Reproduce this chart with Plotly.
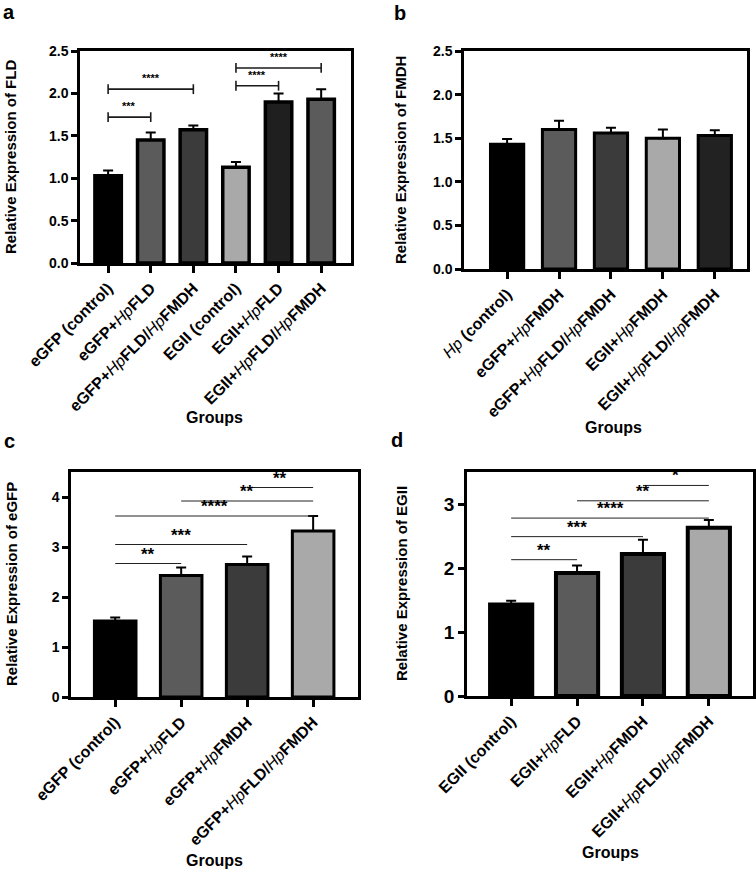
"""Four-panel relative expression bar charts (FLD, FMDH, eGFP, EGII)."""

import plotly.graph_objects as go
from plotly.subplots import make_subplots

W, H = 756, 870
FONT = "Liberation Sans, Arial, Helvetica, sans-serif"

# ---- data -----------------------------------------------------------------
a_groups = ["eGFP (control)", "eGFP+HpFLD", "eGFP+HpFLD/HpFMDH",
            "EGII (control)", "EGII+HpFLD", "EGII+HpFLD/HpFMDH"]
a_mean = [1.03, 1.45, 1.57, 1.13, 1.90, 1.93]
a_err = [0.06, 0.09, 0.05, 0.06, 0.10, 0.12]
a_colors = ["#000000", "#5b5b5b", "#3b3b3b", "#a9a9a9", "#1f1f1f", "#5b5b5b"]
a_sig = [(0, 1, 1.72, "***"), (0, 2, 2.05, "****"), (3, 4, 2.09, "****"), (3, 5, 2.30, "****")]

b_groups = ["Hp (control)", "eGFP+HpFMDH", "eGFP+HpFLD/HpFMDH", "EGII+HpFMDH", "EGII+HpFLD/HpFMDH"]
b_mean = [1.43, 1.60, 1.56, 1.50, 1.53]
b_err = [0.06, 0.10, 0.06, 0.10, 0.06]
b_colors = ["#000000", "#5b5b5b", "#3b3b3b", "#a9a9a9", "#222222"]

c_groups = ["eGFP (control)", "eGFP+HpFLD", "eGFP+HpFMDH", "eGFP+HpFLD/HpFMDH"]
c_mean = [1.52, 2.43, 2.65, 3.32]
c_err = [0.07, 0.16, 0.16, 0.30]
c_colors = ["#000000", "#5b5b5b", "#3b3b3b", "#a9a9a9"]
c_sig = [(0, 1, 2.67, "**"), (0, 2, 3.05, "***"), (0, 3, 3.62, "****"), (1, 3, 3.92, "**"), (2, 3, 4.19, "**")]

d_groups = ["EGII (control)", "EGII+HpFLD", "EGII+HpFMDH", "EGII+HpFLD/HpFMDH"]
d_mean = [1.43, 1.92, 2.22, 2.63]
d_err = [0.06, 0.12, 0.22, 0.12]
d_colors = ["#000000", "#5b5b5b", "#3b3b3b", "#a9a9a9"]
d_sig = [(0, 1, 2.13, "**"), (0, 2, 2.49, "***"), (0, 3, 2.78, "****"), (1, 3, 3.05, "**"), (2, 3, 3.29, "*")]


def fmt_label(name):
    # "Hp" is set in italic, everything else bold
    parts = name.split("Hp")
    out = "<b>" + parts[0] + "</b>"
    for p in parts[1:]:
        out += "<i>Hp</i><b>" + p + "</b>"
    return out.replace("<b></b>", "")


def px_x(p):
    return p / W


def px_y(p):
    return 1 - p / H


fig = make_subplots(rows=2, cols=2)

panels = [
    dict(g=a_groups, m=a_mean, e=a_err, c=a_colors, s=a_sig, row=1, col=1,
         xd=(80, 351), yd=(51, 263), xr=(-0.66, 5.70), yr=(0, 2.5), dt=0.5, tf=".1f",
         bw=0.62, ow=3.5, ts=14, sig_style="cap"),
    dict(g=b_groups, m=b_mean, e=b_err, c=b_colors, s=[], row=1, col=2,
         xd=(464, 747), yd=(51, 269), xr=(-0.83, 4.62), yr=(0, 2.5), dt=0.5, tf=".1f",
         bw=0.64, ow=3, ts=14, sig_style="cap"),
    dict(g=c_groups, m=c_mean, e=c_err, c=c_colors, s=c_sig, row=2, col=1,
         xd=(71, 358), yd=(472, 697), xr=(-0.67, 3.68), yr=(0, 4.5), dt=1, tf="d",
         bw=0.63, ow=3, ts=14, sig_style="plain"),
    dict(g=d_groups, m=d_mean, e=d_err, c=d_colors, s=d_sig, row=2, col=2,
         xd=(467, 753), yd=(472, 696), xr=(-0.67, 3.67), yr=(0, 3.5), dt=1, tf="d",
         bw=0.64, ow=4, ts=19, sig_style="plain"),
]

for p in panels:
    n = len(p["g"])
    xs = list(range(n))
    fig.add_trace(
        go.Bar(
            x=xs, y=p["m"], width=p["bw"],
            marker={"color": p["c"], "line": {"color": "#000000", "width": p["ow"]}},
            error_y={"type": "data", "array": p["e"], "arrayminus": [0] * n, "symmetric": False,
                     "color": "#000000", "thickness": 2, "width": 5},
            showlegend=False, hoverinfo="skip",
        ),
        row=p["row"], col=p["col"],
    )
    for i0, i1, level, stars in p["s"]:
        if p["sig_style"] == "cap":
            fig.add_trace(
                go.Scatter(
                    x=[i0, i1], y=[level, level], mode="lines+markers",
                    line={"color": "#1a1a1a", "width": 1.6},
                    marker={"symbol": "line-ns-open", "size": 7, "line": {"color": "#1a1a1a", "width": 1.6}},
                    showlegend=False, hoverinfo="skip",
                ),
                row=p["row"], col=p["col"],
            )
            star_size, yshift = 11, 3
        else:
            fig.add_trace(
                go.Scatter(
                    x=[i0, i1], y=[level, level], mode="lines",
                    line={"color": "#222222", "width": 1},
                    showlegend=False, hoverinfo="skip",
                ),
                row=p["row"], col=p["col"],
            )
            star_size, yshift = 17, -2
        fig.add_annotation(
            x=(i0 + i1) / 2, y=level, text="<b>" + stars + "</b>", showarrow=False,
            xanchor="center", yanchor="bottom", yshift=yshift,
            font={"size": star_size, "color": "#000000"},
            row=p["row"], col=p["col"],
        )

    fig.update_xaxes(
        domain=[px_x(p["xd"][0]), px_x(p["xd"][1])], range=list(p["xr"]),
        tickmode="array", tickvals=xs, ticktext=[fmt_label(g) for g in p["g"]],
        tickangle=-45, ticks="outside", ticklen=7, tickwidth=2.5, tickcolor="#000000",
        showline=True, linecolor="#000000", linewidth=2.5, mirror=True,
        showgrid=False, zeroline=False, tickfont={"size": 16, "color": "#000000"},
        row=p["row"], col=p["col"],
    )
    fig.update_yaxes(
        domain=[px_y(p["yd"][1]), px_y(p["yd"][0])], range=list(p["yr"]), dtick=p["dt"],
        tickformat=p["tf"], ticks="outside", ticklen=6, tickwidth=2.5, tickcolor="#000000",
        showline=True, linecolor="#000000", linewidth=2.5, mirror=True,
        showgrid=False, zeroline=False,
        tickfont={"size": p["ts"], "color": "#000000", "weight": "bold"},
        row=p["row"], col=p["col"],
    )

# axis titles and panel letters as paper annotations (pixel positions)
y_titles = [(10, 157, "Relative Expression of FLD"), (400, 160, "Relative Expression of FMDH"),
            (11, 584, "Relative Expression of eGFP"), (401, 584, "Relative Expression of EGII")]
for x, y, t in y_titles:
    fig.add_annotation(x=px_x(x), y=px_y(y), xref="paper", yref="paper", text="<b>" + t + "</b>",
                       textangle=-90, showarrow=False, xanchor="center", yanchor="middle",
                       font={"size": 15, "color": "#000000"})

for x, y in [(214, 418), (613, 427), (214, 860), (610, 852)]:
    fig.add_annotation(x=px_x(x), y=px_y(y), xref="paper", yref="paper", text="<b>Groups</b>",
                       showarrow=False, xanchor="center", yanchor="middle",
                       font={"size": 16, "color": "#000000"})

for x, y, letter in [(9, 12, "a"), (400, 13, "b"), (9, 441, "c"), (397, 440, "d")]:
    fig.add_annotation(x=px_x(x), y=px_y(y), xref="paper", yref="paper", text="<b>" + letter + "</b>",
                       showarrow=False, xanchor="center", yanchor="middle",
                       font={"size": 20, "color": "#000000"})

fig.update_layout(
    width=W, height=H,
    margin={"l": 0, "r": 0, "t": 0, "b": 0, "autoexpand": False},
    paper_bgcolor="#ffffff", plot_bgcolor="#ffffff",
    font={"family": FONT, "color": "#000000"},
    showlegend=False, bargap=0.3,
)

fig.write_html("out.html", config={"displayModeBar": False},
               post_script="document.body.style.margin='0';document.body.style.overflow='hidden';")
